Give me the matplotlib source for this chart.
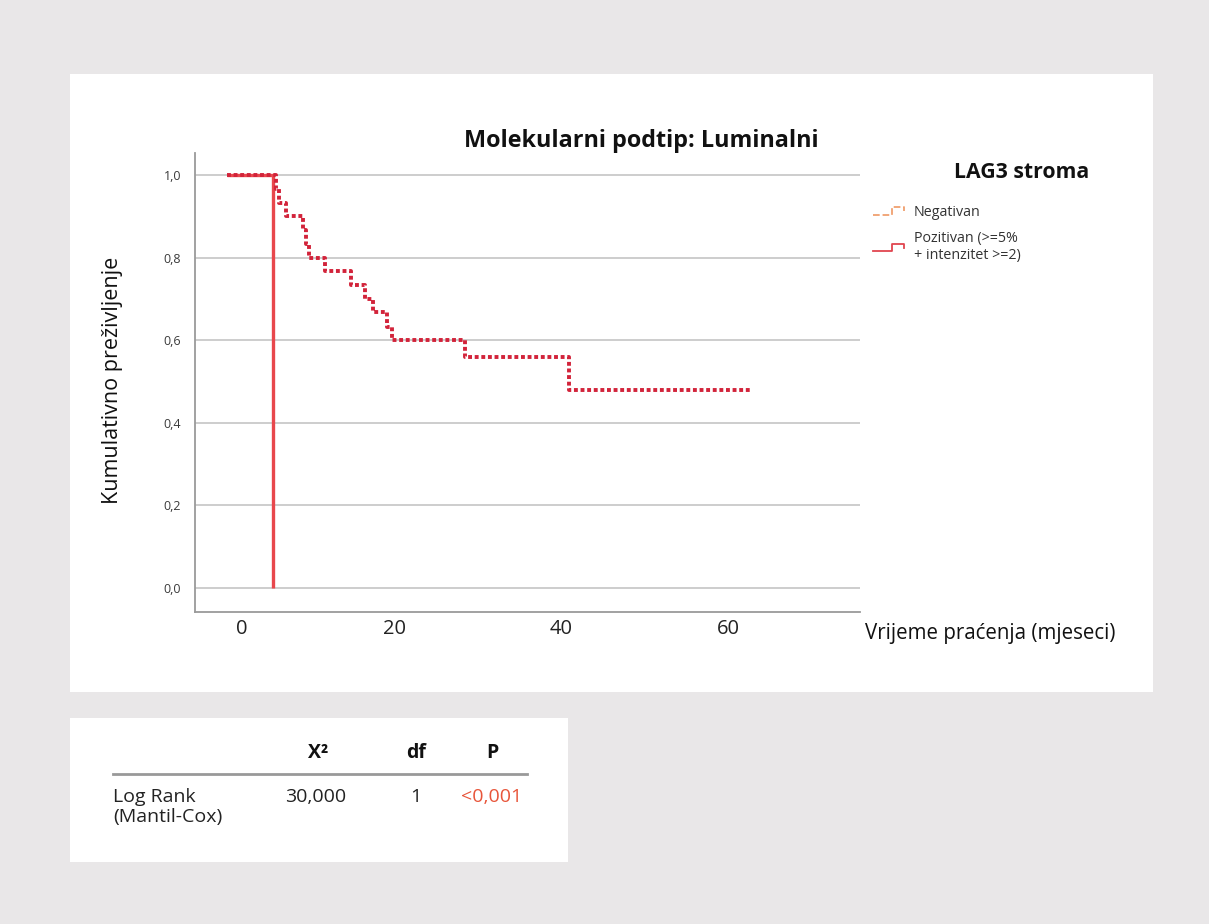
import numpy as np
import matplotlib
matplotlib.use('Agg')
import matplotlib.pyplot as plt
from matplotlib.lines import Line2D
from matplotlib.patches import Rectangle
from matplotlib.transforms import ScaledTranslation
from matplotlib.legend_handler import HandlerBase

plt.rcParams['font.family'] = ['Open Sans', 'DejaVu Sans']

# Kaplan-Meier data (months, cumulative survival)
neg_time = [0, 5.8, 6.2, 7.1, 9.1, 9.4, 9.8, 11.7, 14.8, 16.5, 17.5, 19.1, 19.7, 28.5, 40.9, 62.6]
neg_surv = [1.0, 0.967, 0.933, 0.900, 0.867, 0.833, 0.800, 0.767, 0.733, 0.700, 0.667,
            0.633, 0.600, 0.560, 0.480, 0.480]
pos_time = [0, 5.5, 5.5]
pos_surv = [1.0, 1.0, 0.0]

x_ticks = [0, 20, 40, 60]
y_ticks = [0.0, 0.2, 0.4, 0.6, 0.8, 1.0]
y_ticklabels = ['0,0', '0,2', '0,4', '0,6', '0,8', '1,0']

legend_labels = ['Negativan', 'Pozitivan (>=5%\n+ intenzitet >=2)']

table_header = ['X\u00b2', 'df', 'P']
table_row_name = 'Log Rank\n(Mantil-Cox)'
table_values = ['30,000', '1', '<0,001']

W, H = 1209, 924
fig = plt.figure(figsize=(W / 100, H / 100), dpi=100)
fig.patch.set_facecolor('#e9e7e8')


def fx(px):
    return px / W


def fy(py):
    return 1 - py / H


class StepHandler(HandlerBase):
    # small step-shaped legend icon like the SPSS one
    def create_artists(self, legend, orig_handle, xdescent, ydescent, width, height, fontsize, trans):
        xs = np.array([0, 0.55, 0.55, 0.9, 0.9]) * width - xdescent
        ys = np.array([0.1, 0.1, 0.85, 0.85, 0.45]) * height - ydescent
        ln = Line2D(xs, ys, color=orig_handle.get_color(), lw=orig_handle.get_linewidth(),
                    linestyle=orig_handle.get_linestyle(), transform=trans)
        return [ln]


# white panels behind the chart and the table
fig.patches.append(Rectangle((fx(70), fy(692)), fx(1153) - fx(70), fy(74) - fy(692),
                             transform=fig.transFigure, facecolor='white', edgecolor='none', zorder=-5))
fig.patches.append(Rectangle((fx(70), fy(862)), fx(568) - fx(70), fy(718) - fy(862),
                             transform=fig.transFigure, facecolor='white', edgecolor='none', zorder=-5))

ax = fig.add_axes([fx(195), fy(612), fx(860) - fx(195), fy(153) - fy(612)])
ax.set_zorder(2)
ax.set_facecolor('none')

ax.plot(pos_time, pos_surv, color='#e8474c', lw=2.4, solid_capstyle='butt', zorder=3)
ax.step(neg_time, neg_surv, where='post', color='#d2233a', lw=2.8,
        linestyle=(0, (1, 0.7)), zorder=4)

ax.set_xlim(-3.85, 75.8)
ax.set_ylim(-0.058, 1.053)
ax.set_yticks(y_ticks)
ax.set_yticklabels(y_ticklabels, fontsize=9, color='#3a3a3a')
ax.set_xticks(x_ticks)
ax.set_xticklabels([str(t) for t in x_ticks], fontsize=14.5, color='#222222')
ax.tick_params(axis='both', length=0)
ax.tick_params(axis='y', pad=10)
ax.tick_params(axis='x', pad=5)
ax.grid(axis='y', color='#c9c9c9', lw=1.3)
ax.set_axisbelow(True)
for s in ['top', 'right']:
    ax.spines[s].set_visible(False)
for s in ['left', 'bottom']:
    ax.spines[s].set_color('#9a9a9a')
    ax.spines[s].set_linewidth(1.3)

# the "0" label sits a bit to the right in the original
lab0 = ax.get_xticklabels()[0]
lab0.set_transform(lab0.get_transform() + ScaledTranslation(15 / 100, 0, fig.dpi_scale_trans))

fig.text(fx(641), fy(141), 'Molekularni podtip: Luminalni', fontsize=16.8, fontweight='bold',
         ha='center', va='center', color='#111111')
fig.text(fx(113), fy(380), 'Kumulativno preživljenje', fontsize=15.5, rotation=90,
         ha='center', va='center', color='#111111')
fig.text(fx(865), fy(634), 'Vrijeme praćenja (mjeseci)', fontsize=14.8,
         ha='left', va='center', color='#111111')

# legend
fig.text(fx(1022), fy(173), 'LAG3 stroma', fontsize=15.3, fontweight='bold',
         ha='center', va='center', color='#111111')
handles = [Line2D([], [], color='#f0a070', lw=1.3, linestyle=(0, (1.5, 1.5))),
           Line2D([], [], color='#e0454f', lw=1.3)]
fig.legend(handles, legend_labels, loc='upper left', bbox_to_anchor=(fx(860), fy(192)),
           frameon=False, fontsize=10.3, handlelength=2.4, handletextpad=0.45,
           labelspacing=0.75, labelcolor='#333333',
           handler_map={Line2D: StepHandler()})

# log rank table
hdr_x = [318, 416, 492]
val_x = [316, 416, 492]
for lab, x in zip(table_header, hdr_x):
    fig.text(fx(x), fy(753), lab, fontsize=14, fontweight='bold', ha='center', va='center',
             color='#111111')
fig.add_artist(Line2D([fx(113), fx(527)], [fy(774), fy(774)], transform=fig.transFigure,
                      color='#999999', lw=2))
fig.text(fx(113), fy(807), table_row_name, fontsize=14, ha='left', va='center',
         color='#222222', linespacing=1.2)
for i, (v, x) in enumerate(zip(table_values, val_x)):
    fig.text(fx(x), fy(797), v, fontsize=14, ha='center', va='center',
             color='#e8553a' if i == 2 else '#222222')

fig.savefig('out.png', dpi=100, facecolor=fig.get_facecolor())
